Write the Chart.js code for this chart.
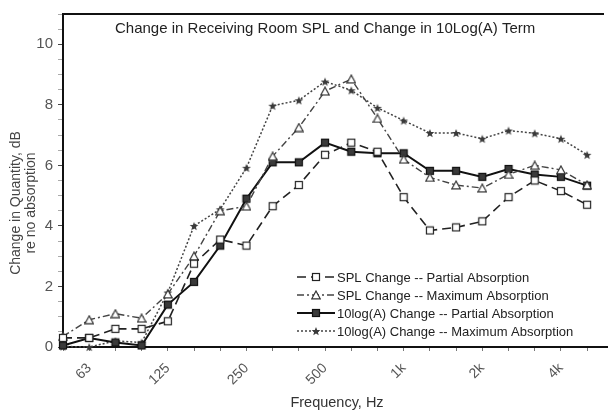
<!DOCTYPE html>
<html>
<head>
<meta charset="utf-8">
<script src="https://cdn.jsdelivr.net/npm/chart.js@4"></script>
<style>
  body { margin: 0; background: #fff; }
  #wrap { width: 608px; height: 415px; }
</style>
</head>
<body>
<div id="wrap"><canvas id="chart" width="608" height="415"></canvas></div>
<script>
// 1/3 octave bands, 50 Hz .. 5 kHz
const freqLabels = ['50', '63', '80', '100', '125', '160', '200', '250', '315', '400', '500',
  '630', '800', '1k', '1.25k', '1.6k', '2k', '2.5k', '3.15k', '4k', '5k'];
const shownFreqs = ['63', '125', '250', '500', '1k', '2k', '4k'];
const yTickLabels = [0, 2, 4, 6, 8, 10];

const splPartial = [0.3, 0.3, 0.6, 0.6, 0.85, 2.75, 3.55, 3.35, 4.65, 5.35, 6.35,
  6.75, 6.45, 4.95, 3.85, 3.95, 4.15, 4.95, 5.5, 5.15, 4.7];
const splMaximum = [0.35, 0.9, 1.1, 0.95, 1.75, 3.0, 4.5, 4.65, 6.3, 7.25, 8.45,
  8.85, 7.55, 6.2, 5.6, 5.35, 5.25, 5.7, 6.0, 5.85, 5.35];
const logAPartial = [0.05, 0.3, 0.15, 0.05, 1.4, 2.15, 3.35, 4.9, 6.1, 6.1, 6.75,
  6.45, 6.4, 6.4, 5.82, 5.82, 5.62, 5.88, 5.7, 5.62, 5.33];
const logAMaximum = [0.02, 0.0, 0.2, 0.15, 1.8, 4.0, 4.55, 5.92, 7.97, 8.15, 8.77,
  8.48, 7.9, 7.48, 7.07, 7.07, 6.88, 7.15, 7.06, 6.88, 6.35];

const seriesNames = ['SPL Change -- Partial Absorption', 'SPL Change -- Maximum Absorption',
  '10log(A) Change -- Partial Absorption', '10log(A) Change -- Maximum Absorption'];

Chart.defaults.font.family = '"Liberation Sans", Arial, sans-serif';

// little marker images (used both for points and legend)
function marker(kind) {
  const c = document.createElement('canvas');
  c.width = 10; c.height = 10;
  const g = c.getContext('2d');
  g.lineWidth = 1.2;
  if (kind === 'openSquare') {
    g.fillStyle = '#fff'; g.strokeStyle = '#222';
    g.fillRect(1.5, 1.5, 7, 7); g.strokeRect(1.5, 1.5, 7, 7);
  } else if (kind === 'fillSquare') {
    g.fillStyle = '#3a3a3a'; g.strokeStyle = '#111';
    g.fillRect(1.5, 1.5, 7, 7); g.strokeRect(1.5, 1.5, 7, 7);
  } else if (kind === 'openTri') {
    g.fillStyle = '#fff'; g.strokeStyle = '#333';
    g.beginPath(); g.moveTo(5, 1); g.lineTo(9.2, 8.8); g.lineTo(0.8, 8.8); g.closePath();
    g.fill(); g.stroke();
  } else {
    g.fillStyle = '#3a3a3a';
    g.beginPath();
    for (let i = 0; i < 10; i++) {
      const r = i % 2 === 0 ? 4.6 : 2;
      const a = -Math.PI / 2 + i * Math.PI / 5;
      const px = 5 + r * Math.cos(a), py = 5.5 + r * Math.sin(a);
      if (i === 0) g.moveTo(px, py); else g.lineTo(px, py);
    }
    g.closePath(); g.fill();
  }
  return c;
}
const mk = {
  openSquare: marker('openSquare'), fillSquare: marker('fillSquare'),
  openTri: marker('openTri'), star: marker('star')
};

const decor = {
  id: 'decor',
  afterDraw(chart) {
    const ctx = chart.ctx, a = chart.chartArea;
    ctx.save();
    // frame top + axis extension
    ctx.strokeStyle = '#111'; ctx.lineWidth = 2;
    ctx.beginPath(); ctx.moveTo(a.left, a.top); ctx.lineTo(604, a.top); ctx.stroke();
    ctx.beginPath(); ctx.moveTo(a.right, a.bottom); ctx.lineTo(608, a.bottom); ctx.stroke();
    // title inside the plot
    ctx.fillStyle = '#222';
    ctx.font = '15px "Liberation Sans", Arial, sans-serif';
    ctx.textBaseline = 'middle'; ctx.textAlign = 'left';
    ctx.fillText('Change in Receiving Room SPL and Change in 10Log(A) Term', 115, 29);
    // y title
    ctx.save();
    ctx.translate(16, 203); ctx.rotate(-Math.PI / 2);
    ctx.textAlign = 'center'; ctx.fillStyle = '#444';
    ctx.font = '14px "Liberation Sans", Arial, sans-serif';
    ctx.fillText('Change in Quantity, dB', 0, 0);
    ctx.fillText('re no absorption', 0, 15);
    ctx.restore();
    // x title
    ctx.textAlign = 'center'; ctx.fillStyle = '#333';
    ctx.font = '14.5px "Liberation Sans", Arial, sans-serif';
    ctx.fillText('Frequency, Hz', 337, 403);
    // legend
    ctx.textAlign = 'left';
    ctx.font = '13px "Liberation Sans", Arial, sans-serif';
    chart.data.datasets.forEach((ds, i) => {
      const y = 277 + 18 * i;
      ctx.strokeStyle = ds.borderColor; ctx.lineWidth = ds.borderWidth;
      ctx.setLineDash(ds.borderDash || []);
      ctx.beginPath(); ctx.moveTo(297, y); ctx.lineTo(335, y); ctx.stroke();
      ctx.setLineDash([]);
      const img = ds.pointStyle;
      ctx.drawImage(img, 316 - img.width / 2, y - img.height / 2);
      ctx.fillStyle = '#222';
      ctx.fillText(ds.label, 337, y + 1);
    });
    ctx.restore();
  }
};

new Chart(document.getElementById('chart'), {
  type: 'line',
  data: {
    labels: freqLabels,
    datasets: [
      { label: seriesNames[0], data: splPartial, borderColor: '#222', borderWidth: 1.6,
        borderDash: [9, 5], pointStyle: mk.openSquare },
      { label: seriesNames[1], data: splMaximum, borderColor: '#444', borderWidth: 1.4,
        borderDash: [7, 3, 2, 3], pointStyle: mk.openTri },
      { label: seriesNames[2], data: logAPartial, borderColor: '#111', borderWidth: 2,
        pointStyle: mk.fillSquare },
      { label: seriesNames[3], data: logAMaximum, borderColor: '#444', borderWidth: 1.5,
        borderDash: [2, 2], pointStyle: mk.star }
    ].map(d => Object.assign(d, { fill: false, tension: 0, clip: false, pointRadius: 5 }))
  },
  options: {
    responsive: false,
    animation: false,
    layout: { padding: { top: 5, right: 9, left: 0, bottom: 0 } },
    plugins: { legend: { display: false }, tooltip: { enabled: false } },
    scales: {
      x: {
        afterFit(s) { s.height = 68; },
        grid: { drawOnChartArea: false, tickLength: 4, tickColor: '#777' },
        border: { color: '#111', width: 2 },
        ticks: {
          autoSkip: false, maxRotation: 45, minRotation: 45, padding: 9,
          color: '#555', font: { size: 14 },
          callback: (v, i) => shownFreqs.includes(freqLabels[i]) ? freqLabels[i] : ''
        }
      },
      y: {
        min: 0, max: 11,
        afterFit(s) { s.width = 63; },
        grid: {
          drawOnChartArea: false, tickLength: 5,
          tickColor: c => yTickLabels.includes(c.tick.value) ? '#444' : '#aaa'
        },
        border: { color: '#111', width: 2 },
        ticks: {
          stepSize: 0.5, autoSkip: false, padding: 5, color: '#555', font: { size: 15 },
          callback: v => yTickLabels.includes(v) ? v : ''
        }
      }
    }
  },
  plugins: [decor]
});
</script>
</body>
</html>
